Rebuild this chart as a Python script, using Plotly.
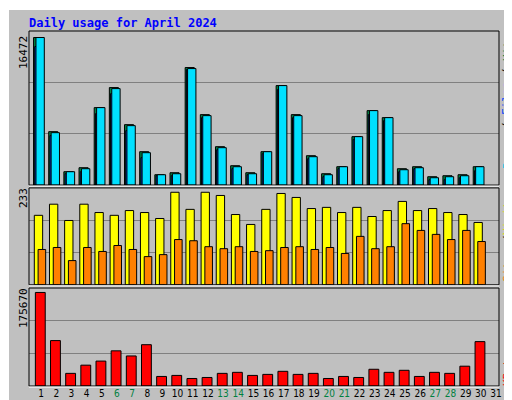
import plotly.graph_objects as go

days = list(range(1, 32))
hits_top = [28,310,430,418,238,178,289,370,439,433,118,259,355,412,433,370,172,259,382,436,415,325,247,268,421,415,445,442,439,415]
files_top = [55,322,436,430,256,196,307,388,442,442,124,268,364,421,439,376,184,268,391,445,421,334,259,277,430,421,454,454,448,427]
pages_top = [28,313,430,421,238,181,292,373,439,436,121,262,358,415,436,370,172,262,385,439,415,325,247,268,424,418,448,445,442,415]
hits = [round((470 - t) * 16472 / 442) for t in hits_top]
files = [round((470 - t) * 16472 / 442) for t in files_top]
pages = [round((470 - t) * 16472 / 442) for t in pages_top]
visits_top = [97,64,112,64,88,97,82,88,106,28,79,28,37,94,124,79,31,43,76,73,88,73,100,82,55,82,76,88,94,118]
sites_top = [199,193,232,193,205,187,199,220,214,169,172,190,196,190,205,202,193,190,199,193,211,160,196,190,121,142,154,169,142,175]
visits = [round((304 - t) * 233 / 276) for t in visits_top]
sites = [round((304 - t) * 233 / 276) for t in sites_top]
kb_top = [328,469,565,541,529,499,514,481,574,571,580,577,565,562,571,568,559,568,565,580,574,577,553,562,556,574,562,565,544,472]
kbytes = [round((602 - t) * 175670 / 274) for t in kb_top]
weekends = [6, 7, 13, 14, 20, 21, 27, 28]

x = days[:30]
line = dict(color="black", width=1)
fig = go.Figure()
fig.add_bar(x=x, y=hits, width=0.6, offset=-0.2, marker=dict(color="#008040", line=line), yaxis="y")
fig.add_bar(x=x, y=files, width=0.55, offset=-0.12, marker=dict(color="#0040ff", line=line), yaxis="y")
fig.add_bar(x=x, y=pages, width=0.55, offset=-0.04, marker=dict(color="#00e0ff", line=line), yaxis="y")
fig.add_bar(x=x, y=visits, width=0.55, offset=-0.15, marker=dict(color="#ffff00", line=line), xaxis="x2", yaxis="y2")
fig.add_bar(x=x, y=sites, width=0.5, offset=0.1, marker=dict(color="#ff8000", line=line), xaxis="x2", yaxis="y2")
fig.add_bar(x=x, y=kbytes, width=0.65, offset=-0.08, marker=dict(color="#ff0000", line=line), xaxis="x3", yaxis="y3")

ticktext = [f'<span style="color:#008040">{d}</span>' if d in weekends else str(d) for d in days]
xcommon = dict(range=[0.5, 31.5], showgrid=False, zeroline=False, fixedrange=True)
grid = dict(showgrid=True, gridcolor="#808080", gridwidth=1, showticklabels=False, zeroline=False, ticks="")
fig.update_layout(
    width=512, height=400, showlegend=False, barmode="overlay",
    paper_bgcolor="#c0c0c0", plot_bgcolor="#c0c0c0",
    margin=dict(l=21, r=21, t=23, b=22),
    font=dict(family="DejaVu Sans Mono", size=11, color="black"),
    xaxis=dict(**xcommon, anchor="y", showticklabels=False),
    xaxis2=dict(**xcommon, anchor="y2", showticklabels=False),
    xaxis3=dict(**xcommon, anchor="y3", tickmode="array", tickvals=[d + 0.3 for d in days],
                ticktext=ticktext, ticks="", tickangle=0, automargin=False,
                tickfont=dict(size=10, family="DejaVu Sans Condensed")),
    yaxis=dict(domain=[0.566, 1], range=[0, 17200], tickvals=[5733, 11466], **grid),
    yaxis2=dict(domain=[0.285, 0.558], range=[0, 244], tickvals=[81, 162], **grid),
    yaxis3=dict(domain=[0, 0.276], range=[0, 184000], tickvals=[61333, 122666], **grid),
)
shapes = []
for y0, y1 in [(0.566, 1), (0.285, 0.558), (0, 0.276)]:
    shapes.append(dict(type="rect", xref="paper", yref="paper", x0=0, x1=1, y0=y0, y1=y1,
                       line=dict(color="black", width=1)))
    shapes.append(dict(type="line", xref="paper", yref="paper", x0=0, x1=1, y0=y0 - 0.003, y1=y0 - 0.003,
                       line=dict(color="white", width=1)))
shapes.append(dict(type="rect", xref="paper", yref="paper", x0=-21/470, x1=491/470, y0=-22/355, y1=377/355,
                   line=dict(color="white", width=2)))
shapes.append(dict(type="line", xref="paper", yref="paper", x0=-21/470, x1=491/470, y0=-21/355, y1=-21/355,
                   line=dict(color="#404040", width=3)))
shapes.append(dict(type="line", xref="paper", yref="paper", x0=490/470, x1=490/470, y0=-22/355, y1=377/355,
                   line=dict(color="#404040", width=3)))
fig.update_layout(shapes=shapes)

def yp(py):
    return (378 - py) / 355

xr = (499 - 21) / 470
ann = [
    dict(text="<b>Daily usage for April 2024</b>", x=-2/470, y=yp(15), xanchor="left", yanchor="middle",
         font=dict(color="#0000ff", size=12)),
    dict(text="16472", x=-6/470, y=yp(45), textangle=-90),
    dict(text="233", x=-6/470, y=yp(190), textangle=-90),
    dict(text="175670", x=-6/470, y=yp(300), textangle=-90),
    dict(text="Pages", x=xr, y=yp(145), textangle=-90, font=dict(color="#00c0e0")),
    dict(text="/", x=xr, y=yp(118), textangle=-90),
    dict(text="Files", x=xr, y=yp(91), textangle=-90, font=dict(color="#0040ff")),
    dict(text="/", x=xr, y=yp(64), textangle=-90),
    dict(text="Hits", x=xr, y=yp(40), textangle=-90, font=dict(color="#008040")),
    dict(text="Sites", x=xr, y=yp(258), textangle=-90, font=dict(color="#ff8000")),
    dict(text="/", x=xr, y=yp(231), textangle=-90),
    dict(text="Visits", x=xr, y=yp(207), textangle=-90, font=dict(color="#e0e000")),
    dict(text="KBytes", x=xr, y=yp(358), textangle=-90, font=dict(color="#ff0000")),
]
for a in ann:
    a.setdefault("xanchor", "center")
    a.setdefault("yanchor", "middle")
    a.update(xref="paper", yref="paper", showarrow=False)
fig.update_layout(annotations=ann)
fig.write_html("out.html")
